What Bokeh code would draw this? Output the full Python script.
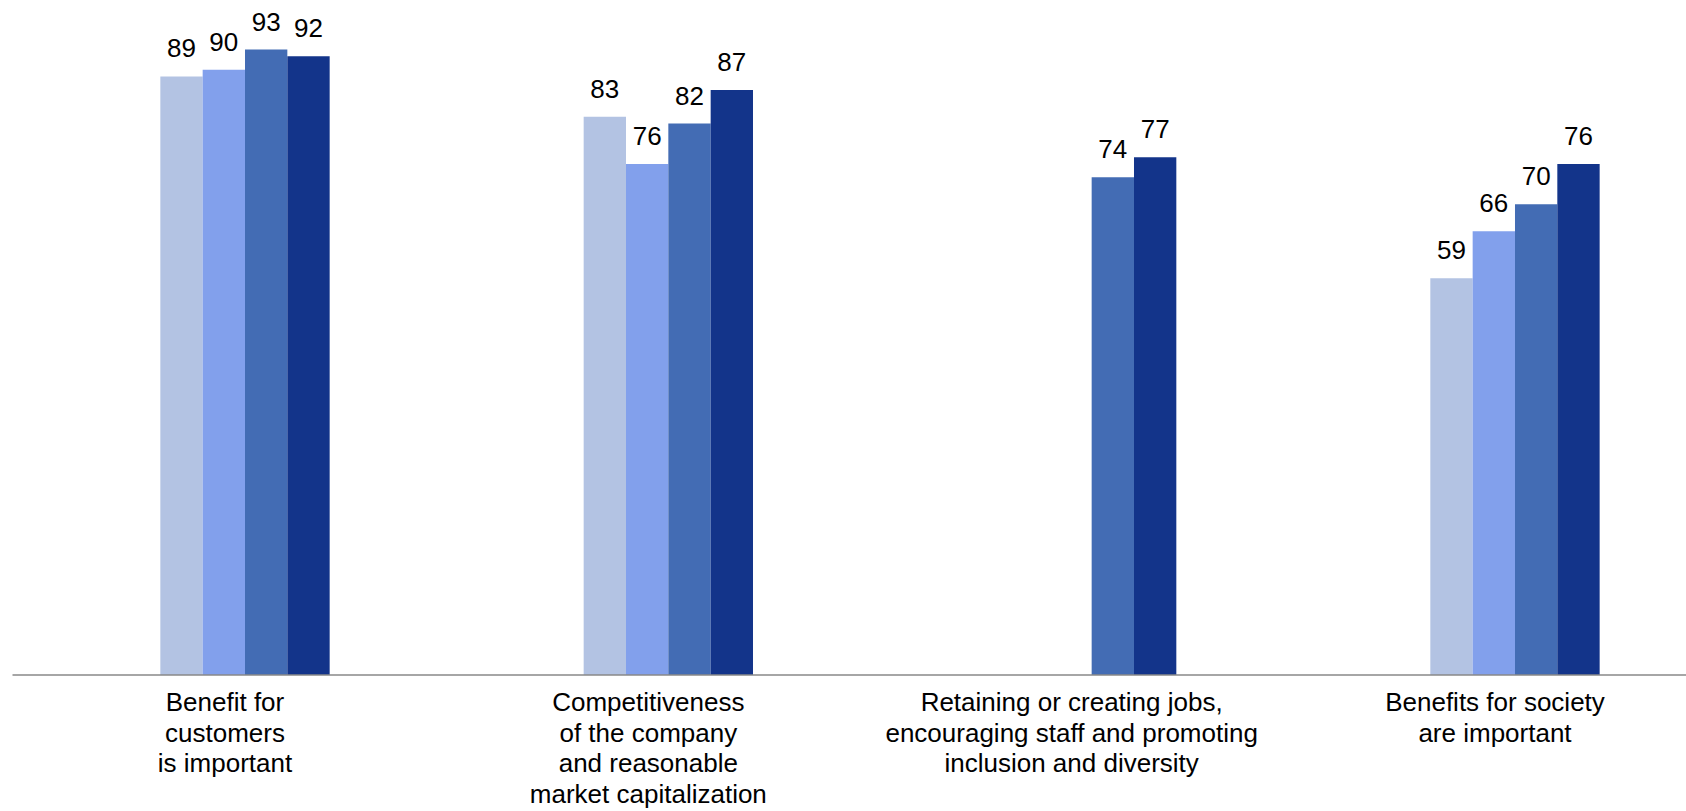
from bokeh.plotting import figure
from bokeh.models import ColumnDataSource, Range1d
from bokeh.core.properties import value
from bokeh.embed import file_html
from bokeh.resources import INLINE

categories = [
    "Benefit for\ncustomers\nis important",
    "Competitiveness\nof the company\nand reasonable\nmarket capitalization",
    "Retaining or creating jobs,\nencouraging staff and promoting\ninclusion and diversity",
    "Benefits for society\nare important",
]
series_names = ["Series 1", "Series 2", "Series 3", "Series 4"]
series_1 = [89, 83, None, 59]
series_2 = [90, 76, None, 66]
series_3 = [93, 82, 74, 70]
series_4 = [92, 87, 77, 76]
colors = ["#B3C3E3", "#82A0EC", "#436CB4", "#13348A"]

all_series = [series_1, series_2, series_3, series_4]
bar_w = 0.1
offsets = [-0.15, -0.05, 0.05, 0.15]

W, H = 1686, 811
unit = 423.33          # px per category
ppv = 6.725            # px per value unit
x0 = -244.5 / unit
x1 = x0 + W / unit
y1 = 674.5 / ppv
y0 = -(H - 674.5) / ppv

p = figure(
    width=W, height=H,
    x_range=Range1d(x0, x1), y_range=Range1d(y0, y1),
    output_backend="svg", toolbar_location=None,
    min_border=0,
)
p.axis.visible = False
p.grid.visible = False
p.outline_line_color = None

FONT = "Liberation Sans"
for vals, off, col, name in zip(all_series, offsets, colors, series_names):
    xs, ys = [], []
    for i, v in enumerate(vals):
        if v is not None:
            xs.append(i + off)
            ys.append(v)
    src = ColumnDataSource(dict(x=xs, top=ys, lab=[str(v) for v in ys]))
    p.vbar(x="x", top="top", width=bar_w, source=src, fill_color=col, line_color=None)
    p.text(x="x", y="top", text="lab", source=src, text_align="center",
           text_baseline="alphabetic", y_offset=-28, text_font=value(FONT),
           text_font_size="26px", text_color="#000000")

# baseline axis line
p.segment(x0=x0 + 12 / unit, y0=0, x1=x1, y1=0, line_color="#888888", line_width=1.5)

# category labels
cat_src = ColumnDataSource(dict(x=list(range(len(categories))), y=[0] * len(categories), t=categories))
p.text(x="x", y="y", text="t", source=cat_src, text_align="center", text_baseline="top",
       x_offset=-20, y_offset=12, text_font=value(FONT), text_font_size="26px",
       text_color="#000000", text_line_height=1.02)

open("out.html", "w").write(file_html(p, INLINE))
